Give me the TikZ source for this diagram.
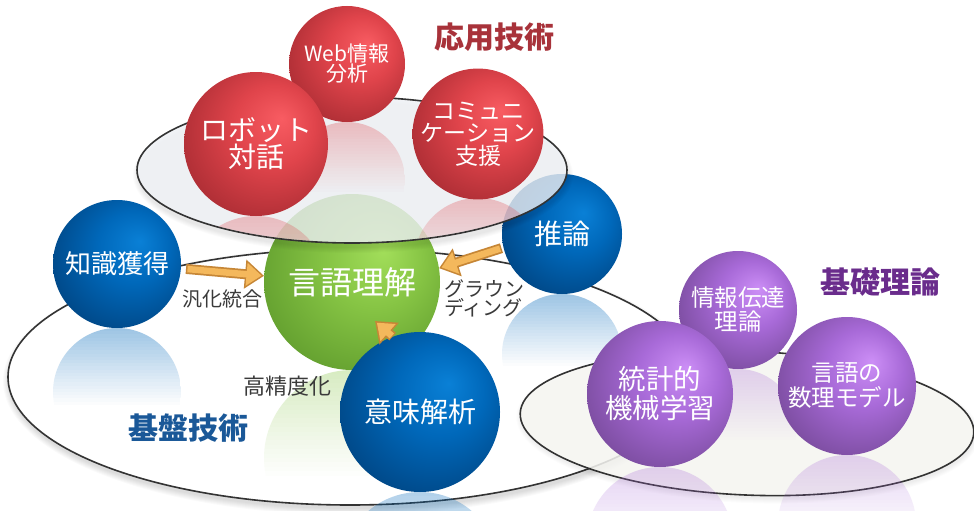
\documentclass[tikz,border=0pt]{standalone}
\usepackage{fontspec}
\newfontfamily\cjk{Noto Sans CJK JP}
\usetikzlibrary{calc,arrows.meta}
\definecolor{redL}{HTML}{F85C62}
\definecolor{redM}{HTML}{E0444B}
\definecolor{redD}{HTML}{A52A31}
\definecolor{bluL}{HTML}{0A80D6}
\definecolor{bluM}{HTML}{0068BA}
\definecolor{bluD}{HTML}{00427E}
\definecolor{grnL}{HTML}{A2DE5A}
\definecolor{grnM}{HTML}{86C444}
\definecolor{grnD}{HTML}{5E9A2C}
\definecolor{purL}{HTML}{CC8EF6}
\definecolor{purM}{HTML}{A86AD8}
\definecolor{purD}{HTML}{744896}
\definecolor{ringc}{HTML}{333333}
\definecolor{topfill}{HTML}{F0F3F7}
\definecolor{rfill}{HTML}{F8F8F4}
\definecolor{lblc}{HTML}{3A3A3A}
\definecolor{appc}{HTML}{A8323A}
\definecolor{basec}{HTML}{1A5898}
\definecolor{theoc}{HTML}{6A2C8C}
\definecolor{arrL}{HTML}{F4B85C}
\definecolor{arrD}{HTML}{C68636}
\pgfdeclareradialshading{redball}{\pgfpoint{9bp}{9bp}}{color(0bp)=(redL); color(14bp)=(redM); color(34bp)=(redD); color(50bp)=(redD)}
\pgfdeclareradialshading{bluball}{\pgfpoint{9bp}{9bp}}{color(0bp)=(bluL); color(14bp)=(bluM); color(34bp)=(bluD); color(50bp)=(bluD)}
\pgfdeclareradialshading{grnball}{\pgfpoint{9bp}{9bp}}{color(0bp)=(grnL); color(14bp)=(grnM); color(34bp)=(grnD); color(50bp)=(grnD)}
\pgfdeclareradialshading{purball}{\pgfpoint{9bp}{9bp}}{color(0bp)=(purL); color(14bp)=(purM); color(34bp)=(purD); color(50bp)=(purD)}
% reflection: colour, centre x, top y, radius, peak opacity
\newcommand{\myrefl}[5]{%
  \begin{scope}
    \clip (#2,#3+#4) circle (#4);
    \foreach \k in {0,...,23}{
      \pgfmathsetmacro\myop{#5*(1-\k/24)}
      \fill[#1, opacity=\myop] (#2-#4, #3+\k*#4*0.05) rectangle (#2+#4, #3+\k*#4*0.05+#4*0.05);
    }
  \end{scope}}
\begin{document}
\begin{tikzpicture}[x=1pt,y=-1pt,
  ball/.style={circle, inner sep=0pt, align=center, text=white, shade},
  rball/.style={ball, shading=redball},
  bball/.style={ball, shading=bluball},
  gball/.style={ball, shading=grnball},
  pball/.style={ball, shading=purball},
  ring/.style={draw=ringc, line width=1.6pt},
  lbl/.style={text=lblc, font=\cjk\fontsize{20}{19}\selectfont},
  ttl/.style={font=\cjk\bfseries\fontsize{30}{30}\selectfont},
  arrout/.style={line width=10pt, draw=arrD, -{Triangle[width=28pt,length=19pt]}},
  arrin/.style={line width=6.5pt, draw=arrL, shorten >=2.5pt, -{Triangle[width=22pt,length=15pt]}},
]
\useasboundingbox (0,0) rectangle (974,511);
\fill[white] (0,0) rectangle (974,511);

% big base ellipse with soft shadow
\foreach \i in {0,...,6}{
  \fill[black, opacity=0.018] (351,381) ellipse ({342+\i} and {128+\i});
}
\path[ring, fill=white] (350,377) ellipse (342 and 128);

% right theory ellipse
\foreach \i in {0,...,5}{
  \fill[black, opacity=0.012, rotate around={-2.5:(748,426)}] (748,426) ellipse ({227+\i} and {72+\i});
}
\path[ring, fill=rfill, fill opacity=0.85, rotate around={-2.5:(747,423)}] (747,423) ellipse (227 and 72);

% reflections (lower group)
\myrefl{bluM}{117}{328}{64}{0.38}
\myrefl{bluM}{562}{294}{60}{0.38}
\myrefl{grnM}{352}{370}{88}{0.32}
\myrefl{bluM}{420}{492}{80}{0.3}
\myrefl{purM}{738}{369}{59}{0.28}
\myrefl{purM}{660}{467}{73}{0.28}
\myrefl{purM}{847}{455}{69}{0.28}

% balls under the top ellipse
\node[gball, minimum size=176pt, font=\cjk\fontsize{32}{32}\selectfont] (lang) at (352,282) {言語理解};
\node[bball, minimum size=120pt, font=\cjk\fontsize{28}{28}\selectfont] (inf) at (562,234) {推論};

% top application ellipse with soft shadow
\foreach \i in {0,...,5}{
  \fill[black, opacity=0.015] (353,175) ellipse ({215+\i} and {73+\i});
}
\path[ring, fill=topfill, fill opacity=0.8] (352,170) ellipse (215 and 73);

% red reflections, inside the top ellipse only
\begin{scope}
  \clip (352,170) ellipse (214 and 72);
  \myrefl{redM}{256}{216}{72}{0.3}
  \myrefl{redM}{347}{122}{58}{0.3}
  \myrefl{redM}{478}{198}{64}{0.3}
\end{scope}

% red balls
\node[rball, minimum size=116pt, font=\cjk\fontsize{21}{20}\selectfont] (web) at (347,64) {Web情報\\分析};
\node[rball, minimum size=144pt, font=\cjk\fontsize{28}{27}\selectfont] (robot) at (256,144) {ロボット\\対話};
\node[rball, minimum size=128pt, font=\cjk\fontsize{23}{22.5}\selectfont] (comm) at (478,134) {コミュニ\\ケーション\\支援};

% other balls
\node[bball, minimum size=128pt, font=\cjk\fontsize{26}{26}\selectfont] (kn) at (117,264) {知識獲得};
\node[bball, minimum size=160pt, font=\cjk\fontsize{28}{28}\selectfont] (sem) at (420,412) {意味解析};
\node[pball, minimum size=118pt, font=\cjk\fontsize{23.5}{24}\selectfont] (info) at (738,310) {情報伝達\\理論};
\node[pball, minimum size=146pt, font=\cjk\fontsize{27.5}{29}\selectfont] (stat) at (660,394) {統計的\\機械学習};
\node[pball, minimum size=138pt, font=\cjk\fontsize{23.5}{25}\selectfont] (model) at (847,386) {言語の\\数理モデル};

% arrows
\coordinate (semtip) at (375,321);
\draw[arrout, shorten <=5pt] (kn.-4) -- (lang.176);
\draw[arrin, shorten <=6.5pt] (kn.-4) -- (lang.176);
\draw[arrout, shorten <=2pt] (inf.193) -- (lang.9);
\draw[arrin, shorten <=3.5pt] (inf.193) -- (lang.9);
\draw[arrout] (sem.110) -- (semtip);
\draw[arrin, shorten <=1pt] (sem.110) -- (semtip);

% labels
\node[lbl] (lgen) at (222,299) {汎化統合};
\node[lbl, align=left] (lgr) at (484,298) {グラウン\\ディング};
\node[lbl, font=\cjk\fontsize{22}{22}\selectfont] (lprec) at (287,386) {高精度化};
\node[ttl, text=basec] (tbase) at (188,428) {基盤技術};
\node[ttl, text=appc] (tapp) at (494,37) {応用技術};
\node[ttl, text=theoc] (ttheo) at (880,282) {基礎理論};
\end{tikzpicture}
\end{document}
